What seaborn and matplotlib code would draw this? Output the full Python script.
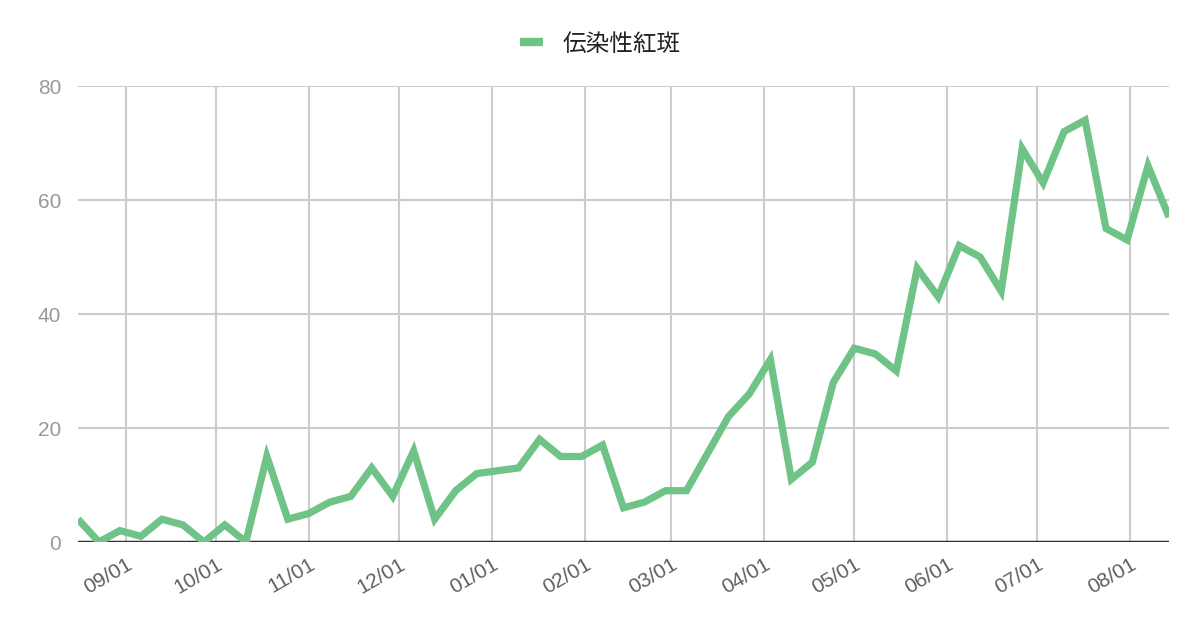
import numpy as np
import pandas as pd
import matplotlib
matplotlib.use("Agg")
import matplotlib.pyplot as plt
import matplotlib.dates as mdates
import seaborn as sns

# ---- data ----
series_name = "伝染性紅斑"
start_date = "2023-08-16"
values = [4, 0, 2, 1, 4, 3, 0, 3, 0, 15,
          4, 5, 7, 8, 13, 8, 16, 4, 9, 12,
          12.5, 13, 18, 15, 15, 17, 6, 7, 9, 9,
          15.5, 22, 26, 32, 11, 14, 28, 34, 33, 30,
          48, 43, 52, 50, 44, 69, 63, 72, 74, 55,
          53, 66, 57]
dates = pd.date_range(start_date, periods=len(values), freq="7D")
y_ticks = [0, 20, 40, 60, 80]

df = pd.DataFrame({"date": dates, "value": values})

sns.set_theme(style="white")
plt.rcParams['font.family'] = ['Liberation Sans', 'Noto Sans CJK JP', 'DejaVu Sans']

fig = plt.figure(figsize=(12, 6.26), dpi=100)
ax = fig.add_axes([78/1200, 1-542/626, (1169-78)/1200, (542-86)/626])

line_color = "#6fc387"
sns.lineplot(data=df, x="date", y="value", ax=ax, color=line_color,
             linewidth=5.2, label=series_name, solid_joinstyle="miter",
             solid_capstyle="butt")

ax.set_xlim(dates[0], dates[-1])
ax.set_ylim(0, 80)
ax.set_yticks(y_ticks)
ax.xaxis.set_major_locator(mdates.MonthLocator(bymonthday=1))
ax.xaxis.set_major_formatter(mdates.DateFormatter("%m/%d"))

ax.grid(True, color="#cccccc", linewidth=1.5)
ax.set_axisbelow(True)
for s in ax.spines.values():
    s.set_visible(False)
ax.axhline(0, color="#333333", linewidth=2.5, zorder=1.5)

ax.set_xlabel("")
ax.set_ylabel("")
ax.tick_params(axis="y", length=0, pad=12, labelsize=15, labelcolor="#999999")
ax.tick_params(axis="x", length=0, pad=9, labelsize=15, labelcolor="#5f5f5f")
for lbl in ax.get_xticklabels():
    lbl.set_rotation(30)
    lbl.set_ha("right")
    lbl.set_rotation_mode("anchor")

ax.get_legend().remove()
leg = fig.legend(loc="center", bbox_to_anchor=(0.5, 1-44/626), frameon=False,
                 handlelength=1.0, handletextpad=0.8,
                 prop={"family": ["Noto Sans CJK JP", "DejaVu Sans"], "size": 17})
for t in leg.get_texts():
    t.set_color("#222222")
for h in leg.get_lines():
    h.set_linewidth(6)

fig.savefig("out.png", dpi=100)
